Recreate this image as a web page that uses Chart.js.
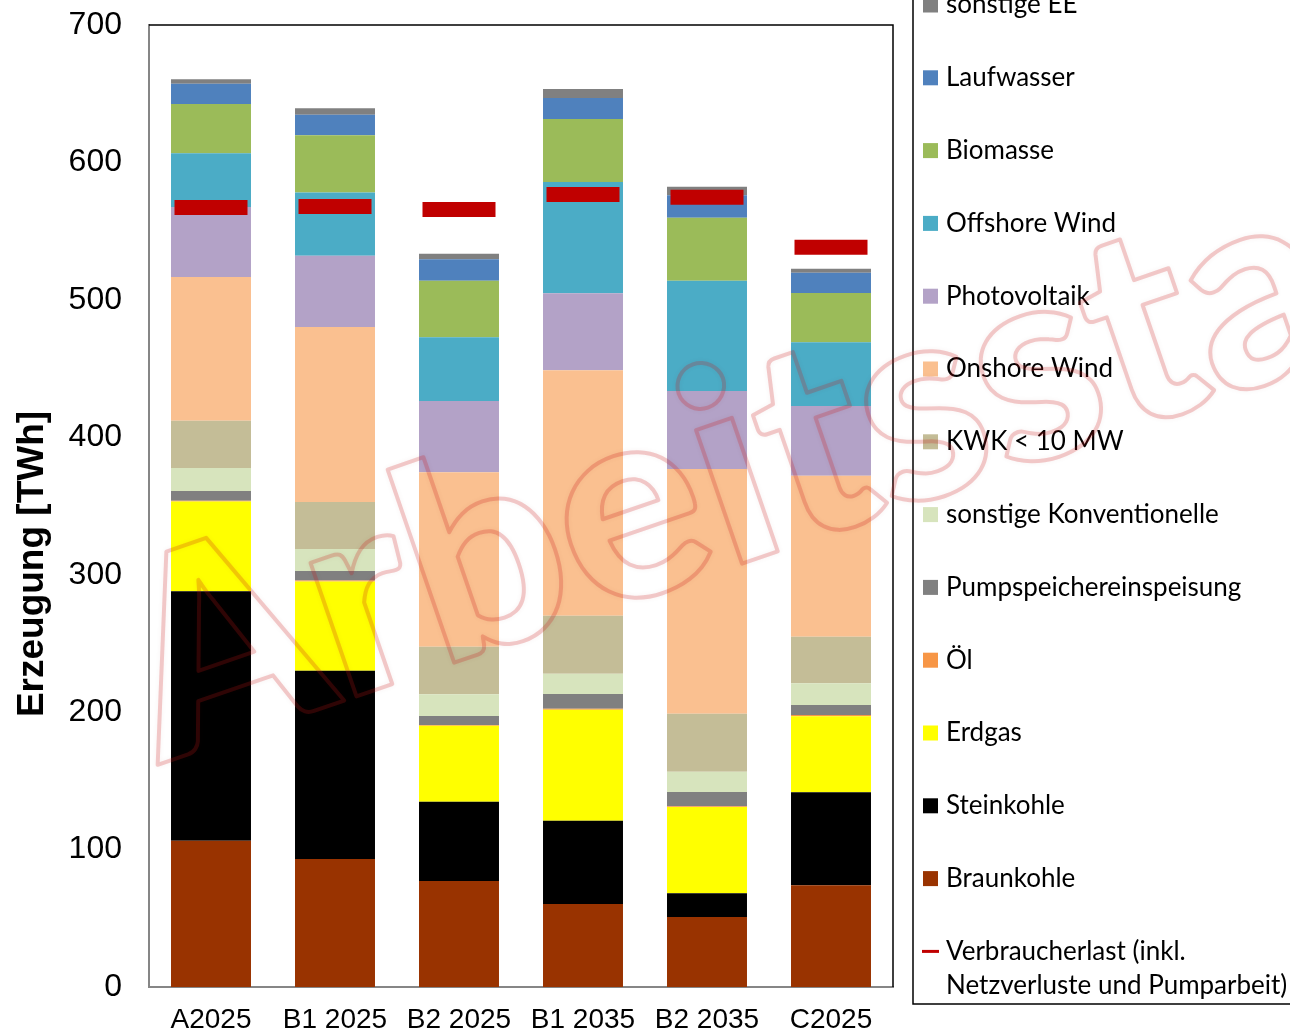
<!DOCTYPE html>
<html>
<head>
<meta charset="utf-8">
<script src="https://cdn.jsdelivr.net/npm/chart.js@4/dist/chart.umd.min.js"></script>
<style>
  html, body { margin: 0; padding: 0; background: #ffffff; }
  #wrap { width: 1290px; height: 1033px; position: relative; }
</style>
</head>
<body>
<div id="wrap"><canvas id="c" width="1290" height="1033"></canvas></div>
<script>
// Scenarios
const categories = ['A2025', 'B1 2025', 'B2 2025', 'B1 2035', 'B2 2035', 'C2025'];

// Generation per source in TWh (stacked bottom to top)
const braunkohle   = [106.5,  93.1,  77.1,  60.4,  50.9,  74.0];
const steinkohle   = [181.5, 137.1,  57.7,  60.6,  17.3,  67.7];
const erdgas       = [ 65.3,  64.9,  55.3,  80.8,  62.7,  55.3];
const oel          = [  0.6,   0.6,   0.6,   0.6,   0.6,   1.0];
const pumpspeicher = [  7.0,   7.0,   6.5,  10.8,  10.4,   7.2];
const sonstKonv    = [ 16.7,  16.0,  15.8,  14.8,  14.8,  15.8];
const kwk          = [ 34.5,  34.2,  34.6,  42.2,  42.2,  33.9];
const onshore      = [104.5, 127.3, 126.9, 178.5, 178.0, 117.1];
const photovoltaik = [ 51.0,  51.9,  51.9,  56.1,  56.8,  50.8];
const offshore     = [ 39.0,  46.1,  46.4,  81.0,  80.2,  46.3];
const biomasse     = [ 35.9,  41.5,  41.1,  45.8,  45.9,  35.9];
const laufwasser   = [ 14.8,  15.0,  15.6,  15.3,  16.3,  14.8];
const sonstigeEE   = [  3.2,   4.7,   4.1,   6.5,   6.2,   2.9];

// Consumer load incl. grid losses and pumping, TWh
const verbraucherlast = [567.2, 567.9, 565.7, 576.7, 574.6, 538.2];

// Axis ticks
const yTicks = [0, 100, 200, 300, 400, 500, 600, 700];

const sources = [
  { label: 'Braunkohle', data: braunkohle, color: '#993300' },
  { label: 'Steinkohle', data: steinkohle, color: '#000000' },
  { label: 'Erdgas', data: erdgas, color: '#FFFF00' },
  { label: 'Öl', data: oel, color: '#F79646' },
  { label: 'Pumpspeichereinspeisung', data: pumpspeicher, color: '#808080' },
  { label: 'sonstige Konventionelle', data: sonstKonv, color: '#D7E4BD' },
  { label: 'KWK < 10 MW', data: kwk, color: '#C4BD97' },
  { label: 'Onshore Wind', data: onshore, color: '#FAC090' },
  { label: 'Photovoltaik', data: photovoltaik, color: '#B3A2C7' },
  { label: 'Offshore Wind', data: offshore, color: '#4BACC6' },
  { label: 'Biomasse', data: biomasse, color: '#9BBB59' },
  { label: 'Laufwasser', data: laufwasser, color: '#4F81BD' },
  { label: 'sonstige EE', data: sonstigeEE, color: '#808080' }
];

const datasets = sources.map(s => ({
  type: 'bar',
  label: s.label,
  data: s.data,
  backgroundColor: s.color,
  borderWidth: 0,
  categoryPercentage: 1,
  barPercentage: 0.645,
  order: 1
}));

datasets.push({
  type: 'line',
  label: 'Verbraucherlast (inkl.\nNetzverluste und Pumparbeit)',
  data: verbraucherlast,
  showLine: false,
  borderColor: '#C00000',
  backgroundColor: '#C00000',
  pointStyle: 'line',
  pointRadius: 36.5,
  pointBorderWidth: 15,
  pointHoverRadius: 36.5,
  order: 0
});

// Top and right edges of the plot frame
const frame = {
  id: 'frame',
  afterDatasetsDraw(chart) {
    const { ctx, chartArea: a } = chart;
    ctx.save();
    ctx.strokeStyle = '#000000';
    ctx.lineWidth = 1.5;
    ctx.beginPath();
    ctx.moveTo(a.left, a.top);
    ctx.lineTo(a.right, a.top);
    ctx.lineTo(a.right, a.bottom);
    ctx.stroke();
    ctx.restore();
  }
};

// Rotated y-axis caption
const yCaption = {
  id: 'yCaption',
  afterDraw(chart) {
    const ctx = chart.ctx;
    ctx.save();
    ctx.translate(33, 564);
    ctx.rotate(-Math.PI / 2);
    ctx.font = 'bold 37px "Liberation Sans", Arial, sans-serif';
    ctx.fillStyle = '#000000';
    ctx.textAlign = 'center';
    ctx.textBaseline = 'middle';
    ctx.fillText('Erzeugung [TWh]', 0, 0);
    ctx.restore();
  }
};

// Legend panel on the right
const sideLegend = {
  id: 'sideLegend',
  afterDraw(chart) {
    const ctx = chart.ctx;
    const ds = chart.data.datasets;
    const bars = ds.filter(d => d.type === 'bar').slice().reverse();
    const load = ds.find(d => d.type === 'line');
    const x0 = 913, yStart = 5, step = 72.8;
    ctx.save();
    // frame
    ctx.strokeStyle = '#000000';
    ctx.lineWidth = 1.5;
    ctx.beginPath();
    ctx.moveTo(x0, 0);
    ctx.lineTo(x0, 1004);
    ctx.lineTo(1292, 1004);
    ctx.stroke();

    ctx.font = '26px Lato, "Open Sans", sans-serif';
    ctx.fillStyle = '#000000';
    ctx.textBaseline = 'middle';
    ctx.textAlign = 'left';
    bars.forEach((d, i) => {
      const y = yStart + i * step;
      ctx.fillStyle = d.backgroundColor;
      ctx.fillRect(923, y - 7.5, 15, 15);
      ctx.fillStyle = '#000000';
      ctx.fillText(d.label, 946, y);
    });
    const yl = yStart + bars.length * step;
    ctx.strokeStyle = load.borderColor;
    ctx.lineWidth = 3;
    ctx.beginPath();
    ctx.moveTo(922, yl);
    ctx.lineTo(939, yl);
    ctx.stroke();
    ctx.fillStyle = '#000000';
    load.label.split('\n').forEach((t, k) => ctx.fillText(t, 946, yl + k * 34));
    ctx.restore();
  }
};

// Draft stamp across the figure
const stamp = {
  id: 'stamp',
  afterDraw(chart) {
    const ctx = chart.ctx;
    ctx.save();
    ctx.translate(160, 764);
    ctx.rotate(-19 * Math.PI / 180);
    ctx.font = '900 274px Lato, "Open Sans", sans-serif';
    ctx.textBaseline = 'alphabetic';
    ctx.lineJoin = 'round';
    ctx.shadowColor = 'rgba(120,0,0,0.25)';
    ctx.shadowBlur = 5;
    ctx.lineWidth = 4;
    ctx.strokeStyle = 'rgba(205,25,25,0.22)';
    ctx.strokeText('Arbeitsstand', 0, 0);
    ctx.restore();
  }
};

new Chart(document.getElementById('c'), {
  type: 'bar',
  data: { labels: categories, datasets },
  options: {
    responsive: false,
    animation: false,
    events: [],
    layout: { autoPadding: false, padding: { left: 0, right: 397, top: 25, bottom: 0 } },
    plugins: { legend: { display: false }, tooltip: { enabled: false } },
    scales: {
      x: {
        stacked: true,
        grid: { display: false, drawTicks: false },
        border: { display: true, color: '#868686', width: 2 },
        ticks: {
          color: '#000000',
          font: { family: '"Liberation Sans", Arial, sans-serif', size: 28 },
          padding: 16,
          maxRotation: 0,
          autoSkip: false
        },
        afterFit(s) { s.height = 46; }
      },
      y: {
        stacked: true,
        min: 0,
        max: 700,
        afterBuildTicks(s) { s.ticks = yTicks.map(v => ({ value: v })); },
        grid: { display: false, drawTicks: false },
        border: { display: true, color: '#868686', width: 2 },
        ticks: {
          color: '#000000',
          font: { family: '"Liberation Sans", Arial, sans-serif', size: 32 },
          padding: 27
        },
        afterFit(s) { s.width = 149; s.paddingTop = 0; s.paddingBottom = 0; }
      }
    }
  },
  plugins: [frame, yCaption, sideLegend, stamp]
});
</script>
</body>
</html>
